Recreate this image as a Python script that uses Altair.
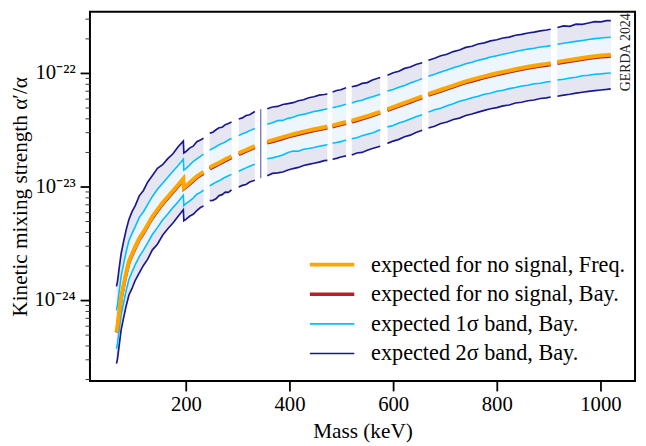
import altair as alt
import pandas as pd

# ---------------- data (log10 of alpha'/alpha) ----------------
mass = [66, 68, 71, 75, 80, 85, 90, 96, 102, 110, 118, 126, 135, 145, 155, 165, 175, 185, 195, 196,
        200, 207, 214, 221, 228, 234,
        246, 252, 258, 264, 270, 276, 282, 288,
        302, 309, 316, 323, 333,
        344.5,
        357, 367, 377, 387, 397, 407, 417, 427, 437, 447, 457, 467, 473,
        483, 491, 499, 509,
        520, 530, 540, 550, 560, 575,
        589, 600, 611, 622, 633, 644, 656,
        668, 680, 692, 704, 716, 728, 740, 752, 764, 776, 788, 800, 812, 824, 836, 848, 860, 872, 884, 896, 904,
        917, 929, 941, 953, 965, 977, 989, 1001, 1012, 1020]

segment = [1] * 26 + [2] * 8 + [3] * 5 + [4] * 1 + [5] * 13 + [6] * 4 + [7] * 6 + [8] * 7 + [9] * 21 + [10] * 10

freq_median_log10 = [
    -24.280, -24.230, -24.120, -23.975, -23.860, -23.750, -23.658, -23.595, -23.532, -23.455, -23.400, -23.338,
    -23.266, -23.203, -23.143, -23.090, -23.038, -22.985, -22.930, -23.010, -22.995, -22.967, -22.939, -22.910,
    -22.889, -22.872,
    -22.832, -22.818, -22.804, -22.790, -22.776, -22.761, -22.747, -22.733,
    -22.706, -22.692, -22.678, -22.664, -22.644,
    -22.624,
    -22.605, -22.592, -22.579, -22.566, -22.552, -22.540, -22.528, -22.517, -22.506, -22.496, -22.487, -22.478, -22.472,
    -22.462, -22.453, -22.443, -22.432,
    -22.420, -22.407, -22.394, -22.380, -22.365, -22.342,
    -22.318, -22.300, -22.282, -22.264, -22.245, -22.226, -22.206,
    -22.185, -22.166, -22.148, -22.129, -22.111, -22.092, -22.074, -22.059, -22.044, -22.030, -22.016, -22.003,
    -21.991, -21.979, -21.967, -21.956, -21.946, -21.937, -21.928, -21.920, -21.914,
    -21.903, -21.894, -21.886, -21.877, -21.868, -21.860, -21.853, -21.847, -21.843, -21.840]

bay_median_log10 = [
    -24.285, -24.238, -24.130, -23.986, -23.872, -23.762, -23.670, -23.607, -23.545, -23.467, -23.412, -23.350,
    -23.279, -23.215, -23.156, -23.102, -23.050, -22.997, -22.941, -23.020, -23.006, -22.979, -22.951, -22.922,
    -22.901, -22.884,
    -22.845, -22.830, -22.817, -22.802, -22.789, -22.773, -22.760, -22.745,
    -22.719, -22.704, -22.690, -22.676, -22.656,
    -22.636,
    -22.617, -22.604, -22.592, -22.578, -22.564, -22.552, -22.540, -22.529, -22.518, -22.508, -22.499, -22.490, -22.484,
    -22.474, -22.465, -22.455, -22.444,
    -22.432, -22.419, -22.405, -22.391, -22.376, -22.353,
    -22.329, -22.311, -22.293, -22.276, -22.257, -22.238, -22.218,
    -22.196, -22.178, -22.160, -22.141, -22.123, -22.104, -22.086, -22.071, -22.056, -22.042, -22.028, -22.015,
    -22.003, -21.991, -21.979, -21.968, -21.958, -21.949, -21.940, -21.932, -21.926,
    -21.915, -21.906, -21.898, -21.889, -21.880, -21.872, -21.865, -21.859, -21.855, -21.852]

sig2_hi_log10 = [
    -23.880, -23.835, -23.725, -23.590, -23.478, -23.375, -23.290, -23.222, -23.170, -23.082, -23.035, -22.962,
    -22.905, -22.840, -22.808, -22.755, -22.712, -22.650, -22.600, -22.705, -22.692, -22.662, -22.645, -22.606,
    -22.590, -22.575,
    -22.530, -22.522, -22.500, -22.482, -22.478, -22.455, -22.445, -22.432,
    -22.405, -22.396, -22.375, -22.368, -22.340,
    -22.319,
    -22.315, -22.300, -22.295, -22.278, -22.270, -22.262, -22.245, -22.236, -22.218, -22.210, -22.195, -22.190, -22.185,
    -22.168, -22.155, -22.148, -22.130,
    -22.122, -22.112, -22.092, -22.085, -22.062, -22.040,
    -22.020, -21.998, -21.985, -21.960, -21.948, -21.925, -21.910,
    -21.888, -21.870, -21.848, -21.835, -21.812, -21.798, -21.775, -21.765, -21.745, -21.735, -21.718, -21.708,
    -21.692, -21.685, -21.668, -21.660, -21.648, -21.640, -21.630, -21.622, -21.615,
    -21.600, -21.585, -21.590, -21.570, -21.572, -21.560, -21.548, -21.550, -21.540, -21.540]

sig1_hi_log10 = [
    -24.090, -24.040, -23.932, -23.790, -23.675, -23.568, -23.478, -23.413, -23.355, -23.272, -23.222, -23.160,
    -23.090, -23.025, -22.972, -22.918, -22.866, -22.815, -22.760, -22.855, -22.842, -22.812, -22.780, -22.757,
    -22.735, -22.715,
    -22.678, -22.664, -22.650, -22.632, -22.620, -22.608, -22.590, -22.578,
    -22.552, -22.535, -22.525, -22.508, -22.490,
    -22.469,
    -22.452, -22.438, -22.420, -22.418, -22.400, -22.390, -22.372, -22.365, -22.352, -22.340, -22.332, -22.322, -22.316,
    -22.306, -22.298, -22.288, -22.275,
    -22.265, -22.250, -22.240, -22.222, -22.210, -22.188,
    -22.160, -22.145, -22.126, -22.110, -22.088, -22.072, -22.050,
    -22.030, -22.012, -21.992, -21.975, -21.955, -21.938, -21.920, -21.905, -21.888, -21.876, -21.860, -21.848,
    -21.835, -21.825, -21.812, -21.800, -21.790, -21.783, -21.772, -21.766, -21.758,
    -21.748, -21.738, -21.730, -21.722, -21.714, -21.705, -21.698, -21.692, -21.688, -21.686]

sig1_lo_log10 = [
    -24.430, -24.380, -24.272, -24.128, -24.015, -23.910, -23.818, -23.752, -23.690, -23.617, -23.560, -23.498,
    -23.425, -23.362, -23.295, -23.242, -23.186, -23.135, -23.078, -23.168, -23.150, -23.128, -23.102, -23.068,
    -23.052, -23.033,
    -22.995, -22.978, -22.962, -22.950, -22.934, -22.918, -22.905, -22.893,
    -22.865, -22.850, -22.836, -22.822, -22.803,
    -22.784,
    -22.755, -22.748, -22.736, -22.722, -22.700, -22.688, -22.690, -22.672, -22.665, -22.656, -22.645, -22.638, -22.630,
    -22.620, -22.612, -22.605, -22.590,
    -22.580, -22.570, -22.552, -22.540, -22.528, -22.500,
    -22.475, -22.462, -22.440, -22.425, -22.405, -22.385, -22.368,
    -22.345, -22.325, -22.310, -22.288, -22.272, -22.250, -22.236, -22.218, -22.205, -22.188, -22.178, -22.162,
    -22.152, -22.138, -22.128, -22.115, -22.108, -22.095, -22.090, -22.080, -22.075,
    -22.062, -22.055, -22.045, -22.038, -22.025, -22.020, -22.012, -22.008, -22.002, -22.000]

sig2_lo_log10 = [
    -24.560, -24.515, -24.405, -24.262, -24.150, -24.045, -23.955, -23.898, -23.828, -23.760, -23.695, -23.642,
    -23.560, -23.508, -23.430, -23.372, -23.322, -23.262, -23.205, -23.302, -23.290, -23.262, -23.245, -23.212,
    -23.185, -23.172,
    -23.125, -23.122, -23.108, -23.080, -23.072, -23.050, -23.052, -23.030,
    -23.005, -22.990, -22.982, -22.960, -22.945,
    -22.927,
    -22.905, -22.885, -22.880, -22.872, -22.855, -22.842, -22.832, -22.815, -22.805, -22.795, -22.785, -22.772, -22.770,
    -22.760, -22.752, -22.740, -22.730,
    -22.722, -22.705, -22.700, -22.680, -22.665, -22.645,
    -22.620, -22.600, -22.585, -22.562, -22.548, -22.525, -22.505,
    -22.485, -22.470, -22.445, -22.432, -22.410, -22.398, -22.375, -22.362, -22.345, -22.330, -22.315, -22.305,
    -22.290, -22.282, -22.265, -22.258, -22.245, -22.238, -22.225, -22.220, -22.212,
    -22.205, -22.195, -22.188, -22.178, -22.170, -22.162, -22.155, -22.150, -22.145, -22.140]

labels = ["expected for no signal, Freq.", "expected for no signal, Bay.",
          "expected 1σ band, Bay.", "expected 2σ band, Bay."]
colors = ["#FFA500", "#B2222A", "#00BFFF", "#1A1A8C"]
widths = [4.0, 3.4, 1.6, 1.7]

y_major_ticks = [1e-24, 1e-23, 1e-22]
y_minor_ticks = [m * 10.0 ** e for e in (-25, -24, -23, -22) for m in range(2, 10)
                 if 1.94e-25 < m * 10.0 ** e < 3.4e-22]
x_ticks = [200, 400, 600, 800, 1000]

annot = pd.DataFrame({"mass": [1050], "val": [1.52e-22], "txt": ["GERDA 2024"]})

# ---------------- build table ----------------
df = pd.DataFrame({
    "mass": mass, "segment": segment,
    "freq": [10.0 ** v for v in freq_median_log10],
    "bay": [10.0 ** v for v in bay_median_log10],
    "s1hi": [10.0 ** v for v in sig1_hi_log10],
    "s1lo": [10.0 ** v for v in sig1_lo_log10],
    "s2hi": [10.0 ** v for v in sig2_hi_log10],
    "s2lo": [10.0 ** v for v in sig2_lo_log10],
})

FONT = "Liberation Serif"

xenc = alt.X("mass:Q", title="Mass (keV)",
             scale=alt.Scale(domain=[14.8, 1066.8], nice=False, zero=False),
             axis=alt.Axis(values=x_ticks, format="d", tickSize=10, tickWidth=1.8,
                           labelPadding=3, titlePadding=6, grid=False, domain=False))
yscale = alt.Scale(type="log", domain=[1.936e-25, 3.46e-22], nice=False)

major_axis = alt.Axis(values=y_major_ticks, orient="left", tickSize=10, tickWidth=1.8,
                      labelPadding=5, titlePadding=3, grid=False, domain=False,
                      labelExpr="datum.value < 5e-24 ? '10⁻²⁴' : (datum.value < 5e-23 ? '10⁻²³' : '10⁻²²')")
minor_axis = alt.Axis(values=y_minor_ticks, orient="left", tickSize=5, tickWidth=1,
                      tickColor="#333333", labels=False, grid=False, domain=False)

legend = alt.Legend(orient="none", legendX=220.7, legendY=241.5, symbolType="stroke",
                    symbolSize=2025, labelFont=FONT, labelFontSize=22.5, labelLimit=400,
                    labelOffset=15, clipHeight=29.2, rowPadding=0, padding=0,
                    labelColor="black")
cenc = alt.Color("series:N", title=None, scale=alt.Scale(domain=labels, range=colors), legend=legend)
wenc = alt.StrokeWidth("series:N", title=None,
                       scale=alt.Scale(type="ordinal", domain=labels, range=widths), legend=legend)

base = alt.Chart(df)

band2 = base.mark_area(color="#E6E6F3").encode(
    x=xenc,
    y=alt.Y("s2lo:Q", scale=yscale, axis=major_axis, title="Kinetic mixing strength α′/α"),
    y2="s2hi:Q", detail="segment:N")

band1 = base.mark_area(color="#EEF6FD").encode(
    x=xenc, y=alt.Y("s1lo:Q", scale=yscale, axis=minor_axis, title=None),
    y2="s1hi:Q", detail="segment:N")

sig2 = base.transform_fold(["s2hi", "s2lo"], as_=["bound", "val"]).transform_calculate(
    series="'expected 2σ band, Bay.'").mark_line().encode(
    x=xenc, y=alt.Y("val:Q", scale=yscale, axis=None), color=cenc, strokeWidth=wenc,
    detail=["segment:N", "bound:N"])

sig1 = base.transform_fold(["s1hi", "s1lo"], as_=["bound", "val"]).transform_calculate(
    series="'expected 1σ band, Bay.'").mark_line().encode(
    x=xenc, y=alt.Y("val:Q", scale=yscale, axis=None), color=cenc, strokeWidth=wenc,
    detail=["segment:N", "bound:N"])

bay = base.transform_calculate(series="'expected for no signal, Bay.'").mark_line().encode(
    x=xenc, y=alt.Y("bay:Q", scale=yscale, axis=None), color=cenc, strokeWidth=wenc,
    detail="segment:N")

freq = base.transform_calculate(series="'expected for no signal, Freq.'").mark_line().encode(
    x=xenc, y=alt.Y("freq:Q", scale=yscale, axis=None), color=cenc, strokeWidth=wenc,
    detail="segment:N")

lone = base.transform_filter("datum.segment == 4").mark_rule(color="#1A1A8C", strokeWidth=0.8).encode(
    x=xenc, y=alt.Y("s2lo:Q", scale=yscale, axis=None), y2="s2hi:Q")

gerda = alt.Chart(annot).mark_text(angle=270, baseline="middle", font=FONT, fontSize=14,
                                   color="#222222").encode(
    x=xenc, y=alt.Y("val:Q", scale=yscale, axis=None), text="txt:N")

chart = alt.layer(band2, band1, sig2, sig1, bay, freq, lone, gerda).resolve_axis(
    y="independent").properties(
    width=552, height=374,
    autosize=alt.AutoSizeParams(type="none"),
    padding={"left": 83, "top": 1, "right": 3, "bottom": 62},
).configure_view(stroke="black", strokeWidth=2).configure_axis(
    labelFont=FONT, titleFont=FONT, labelFontSize=21, titleFontSize=21.5,
    titleFontWeight="normal", labelColor="black", titleColor="black", tickColor="black")

chart.save("out.html", embed_options={"renderer": "svg", "actions": False})
